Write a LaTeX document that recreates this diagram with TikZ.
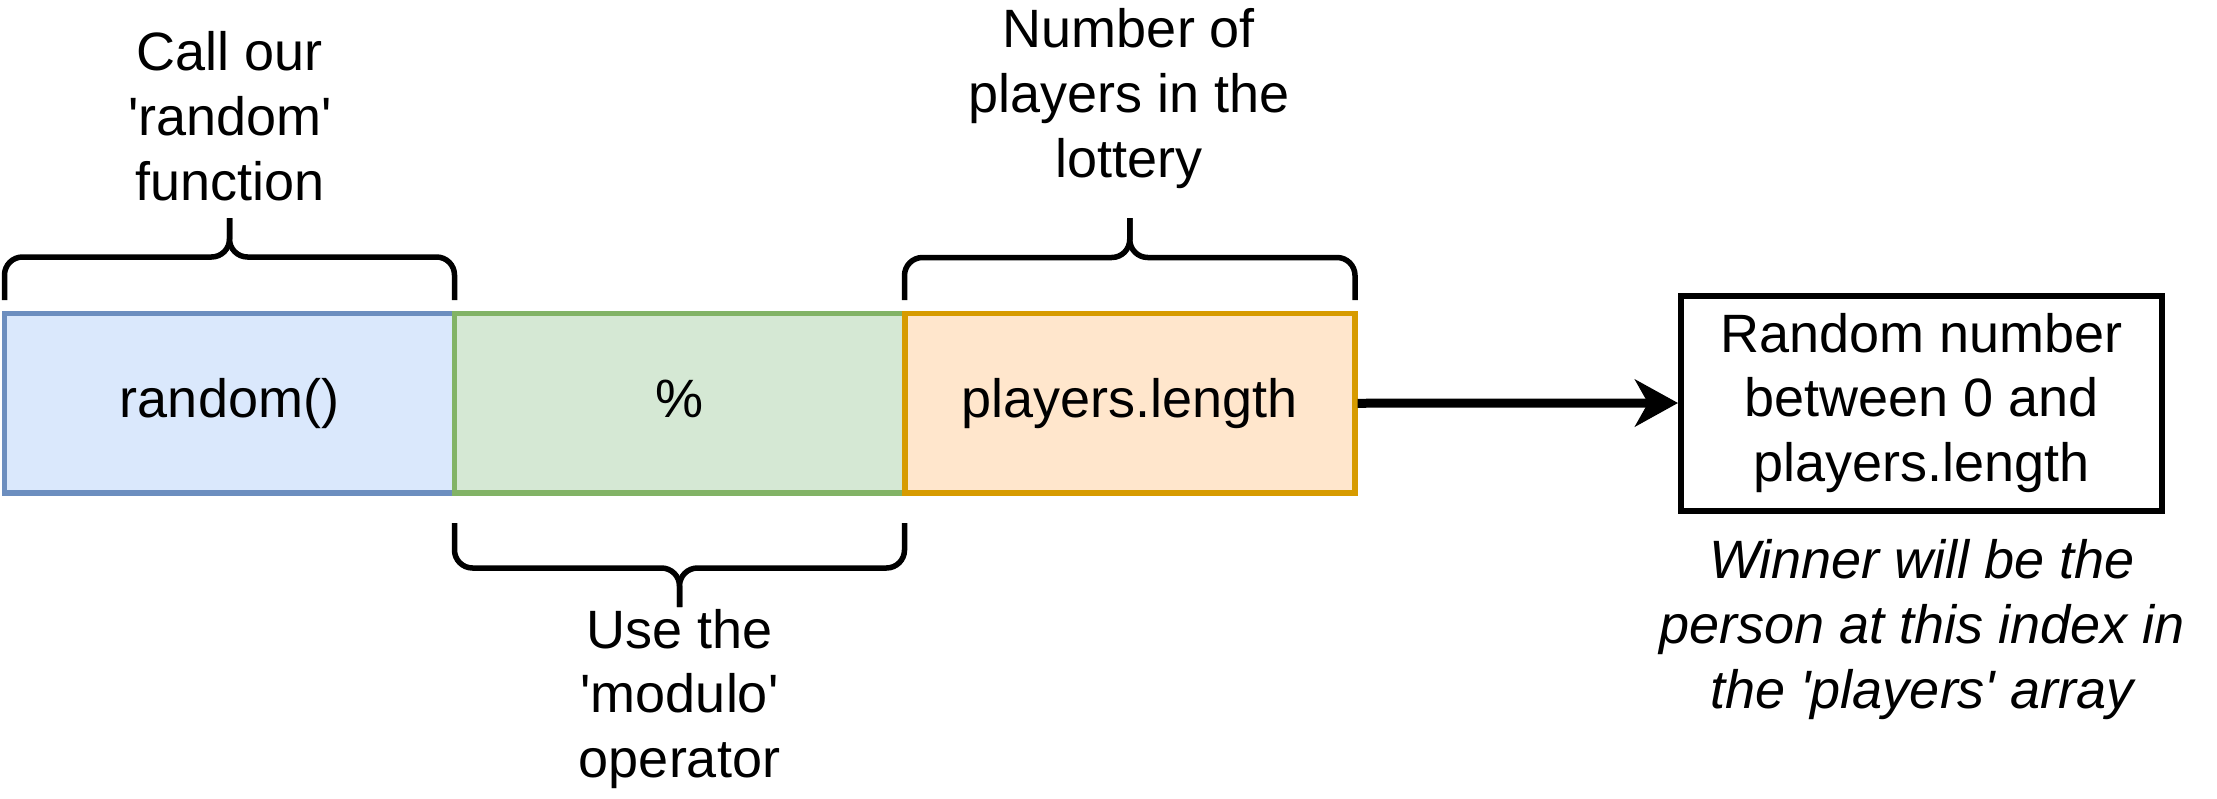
\documentclass[tikz,border=0pt]{standalone}
\usepackage{fontspec}
\setmainfont{Liberation Sans}[Ligatures=TeXOff]
\usetikzlibrary{arrows.meta}
\definecolor{bluefill}{HTML}{DAE8FC}
\definecolor{bluedraw}{HTML}{6C8EBF}
\definecolor{greenfill}{HTML}{D5E8D4}
\definecolor{greendraw}{HTML}{82B366}
\definecolor{orangefill}{HTML}{FFE6CC}
\definecolor{orangedraw}{HTML}{D79B00}
\begin{document}
\begin{tikzpicture}[x=0.5pt,y=-0.5pt,
  txt/.style={font=\fontsize{27}{32.4}\selectfont},
  lbl/.style={txt, align=center, inner sep=0pt},
  cell/.style={txt, draw, line width=2.75pt, minimum width=225pt, minimum height=89.75pt,
    inner sep=0pt, text height=19.7pt, text depth=5.7pt},
  resbox/.style={txt, draw=black, line width=3pt, minimum width=240.5pt, minimum height=107.5pt,
    align=center, inner sep=0pt},
  curly/.style={line width=2.75pt, rounded corners=9pt},
  flow/.style={line width=4.5pt, -{Stealth[length=21.5pt,width=23.5pt,inset=6.5pt]}}
]
\useasboundingbox (0,0) rectangle (2217,798);

% three cells
\node[cell, fill=bluefill, draw=bluedraw] (rand) at (229.5,403.25) {random()};
\node[cell, fill=greenfill, draw=greendraw] (mod) at (679.5,403.25) {\%};
\node[cell, fill=orangefill, draw=orangedraw] (len) at (1129.75,403.25) {players.length};

% result
\node[resbox] (res) at (1921.5,403) {Random number\\between 0 and\\players.length};
\draw[flow] (len.east) -- (res.west);

% braces
\draw[curly] (4.5,300) -- (4.5,257) -- (229.5,257) -- (229.5,218);
\draw[curly] (454.5,300) -- (454.5,257) -- (229.5,257) -- (229.5,218);
\draw[curly] (904.5,300) -- (904.5,257.5) -- (1129.75,257.5) -- (1129.75,218);
\draw[curly] (1355,300) -- (1355,257.5) -- (1129.75,257.5) -- (1129.75,218);
\draw[curly] (454.5,523) -- (454.5,568) -- (679.5,568) -- (679.5,607);
\draw[curly] (904.5,523) -- (904.5,568) -- (679.5,568) -- (679.5,607);

% labels
\node[lbl] (lrand) at (230,116.3) {Call our\\'random'\\function};
\node[lbl] (llen) at (1129,98.5) {Number of\\players in the\\lottery};
\node[lbl] (lmod) at (679.5,699) {Use the\\'modulo'\\operator};
\node[lbl, font=\fontsize{27}{32.4}\selectfont\itshape] (lwin) at (1922,629.5) {Winner will be the\\person at this index in\\the 'players' array};
\end{tikzpicture}
\end{document}
